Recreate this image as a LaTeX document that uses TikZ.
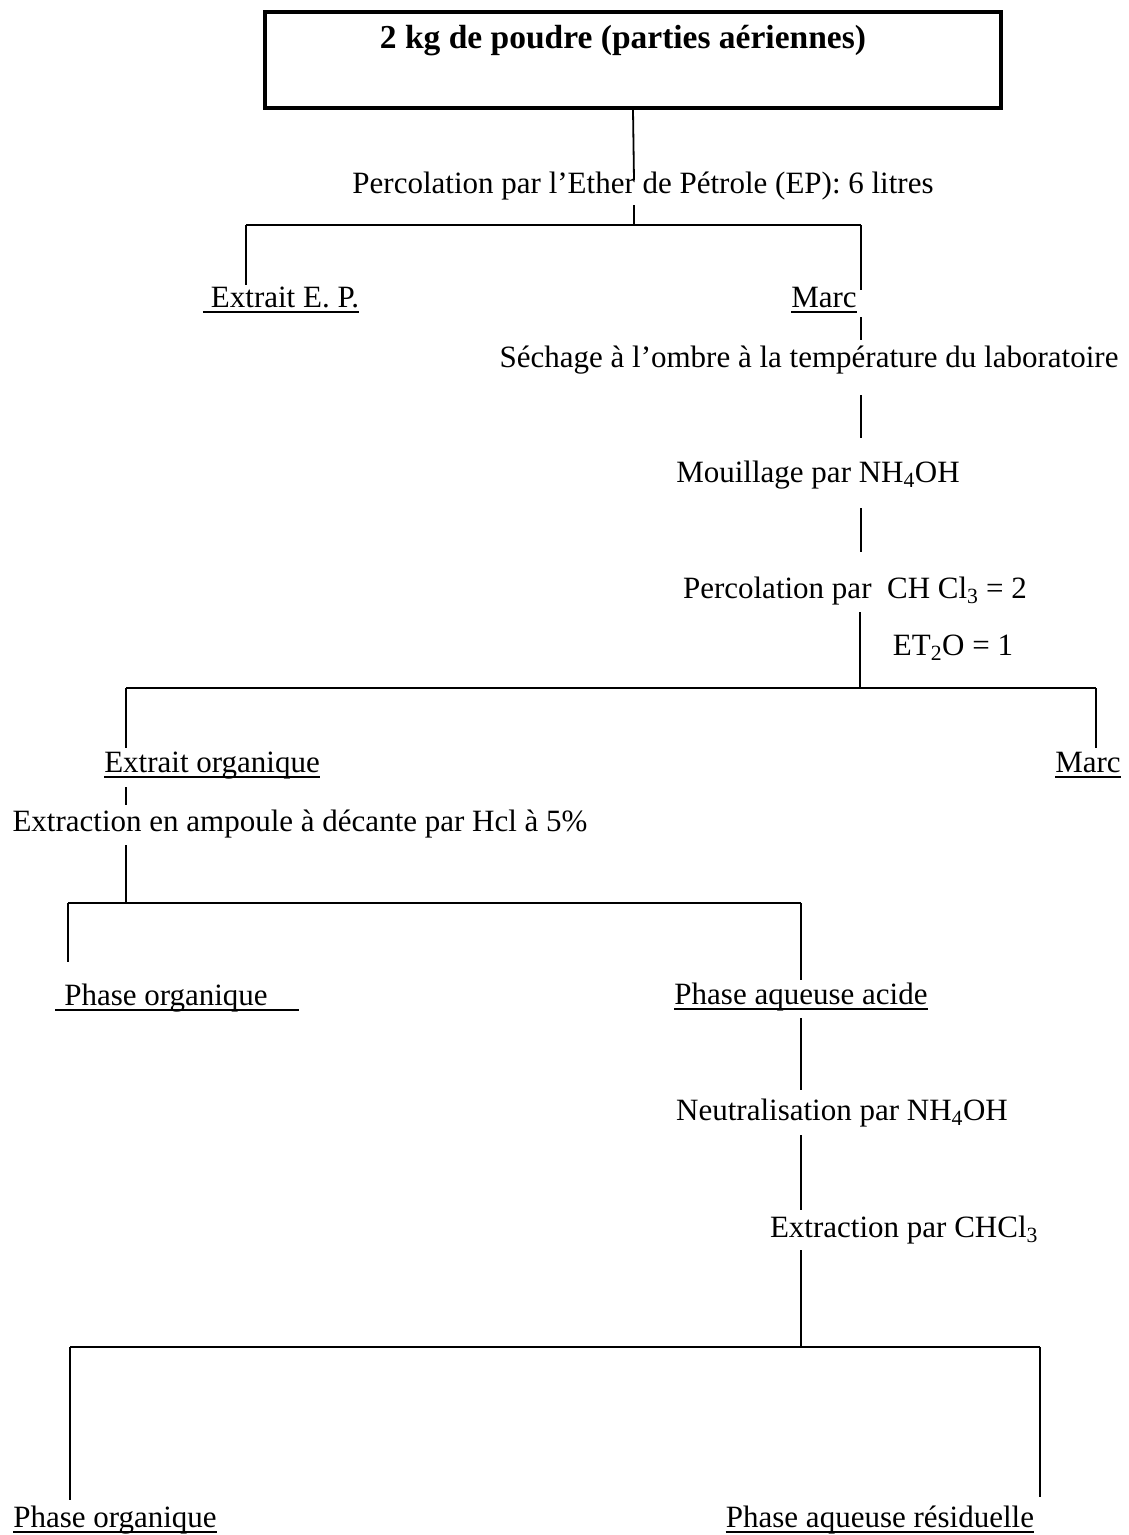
\documentclass[tikz,border=0pt]{standalone}
\usepackage{fontspec}
\setmainfont{Liberation Serif}
\begin{document}
\begin{tikzpicture}[x=1pt,y=-1pt,
  every node/.style={font=\fontsize{31}{37}\selectfont, inner sep=0pt, anchor=base},
  conn/.style={line width=1.8pt},
  hconn/.style={line width=2.4pt},
  ul/.style={line width=1.8pt}]
\useasboundingbox (0,0) rectangle (1129,1535);
% title box
\node (box) [draw, line width=3.5pt, minimum width=736pt, minimum height=96pt, anchor=center] at (633,60) {};
\node (title) [font=\fontsize{33.5}{40}\selectfont\bfseries] at (623,48) {2 kg de poudre (parties aériennes)};
% labels
\node (perc1) at (643,193) {Percolation par l’Ether de Pétrole (EP): 6 litres};
\node (extep) at (285,307) {Extrait E. P.};
\node (marc1) at (824,307) {Marc};
\node (sech) at (809,367) {Séchage à l’ombre à la température du laboratoire};
\node (mouil) at (818,482) {Mouillage par NH\textsubscript{4}OH};
\node (perc2) at (855,598) {Percolation par\ \ CH Cl\textsubscript{3} = 2};
\node (et2o) at (953,655) {ET\textsubscript{2}O = 1};
\node (extorg) at (212,772) {Extrait organique};
\node (marc2) at (1088,772) {Marc};
\node (ampoule) at (300,831) {Extraction en ampoule à décante par Hcl à 5\%};
\node (phorg1) at (166,1005) {Phase organique};
\node (phaq) at (801,1004) {Phase aqueuse acide};
\node (neutr) at (842,1120) {Neutralisation par NH\textsubscript{4}OH};
\node (extchcl) at (904,1237) {Extraction par CHCl\textsubscript{3}};
\node (phorg2) at (115,1527) {Phase organique};
\node (phres) at (880,1527) {Phase aqueuse résiduelle};
% underlines
\draw[ul] ([yshift=-5pt]extep.base west) ++(-8pt,0) -- ([yshift=-5pt]extep.base east);
\draw[ul] ([yshift=-5pt]marc1.base west) -- ([yshift=-5pt]marc1.base east);
\draw[ul] ([yshift=-5pt]extorg.base west) -- ([yshift=-5pt]extorg.base east);
\draw[ul] ([yshift=-5pt]marc2.base west) -- ([yshift=-5pt]marc2.base east);
\draw[ul] ([yshift=-5pt]phorg1.base west) ++(-9pt,0) -- ([yshift=-5pt,xshift=31pt]phorg1.base east);
\draw[ul] ([yshift=-5pt]phaq.base west) -- ([yshift=-5pt]phaq.base east);
\draw[ul] ([yshift=-5pt]phorg2.base west) -- ([yshift=-5pt]phorg2.base east);
\draw[ul] ([yshift=-5pt]phres.base west) -- ([yshift=-5pt]phres.base east);
% junction coordinates
\coordinate (a1) at (634,180);
\coordinate (a2) at (634,205);
\coordinate (j1) at (634,225);
\coordinate (j1l) at (246,225);
\coordinate (j1r) at (861,225);
\coordinate (e1) at (246,285);
\coordinate (e2) at (861,290);
\coordinate (b1) at (861,317);
\coordinate (b2) at (861,340);
\coordinate (b3) at (861,395);
\coordinate (b4) at (861,438);
\coordinate (b5) at (861,508);
\coordinate (b6) at (861,552);
\coordinate (b7) at (860,612);
\coordinate (j2) at (860,688);
\coordinate (j2l) at (126,688);
\coordinate (j2r) at (1096,688);
\coordinate (e3) at (126,748);
\coordinate (e4) at (1096,748);
\coordinate (c1) at (126,787);
\coordinate (c2) at (126,805);
\coordinate (c3) at (126,845);
\coordinate (j3) at (126,903);
\coordinate (j3l) at (68,903);
\coordinate (j3r) at (801,903);
\coordinate (e5) at (68,962);
\coordinate (e6) at (801,980);
\coordinate (d1) at (801,1018);
\coordinate (d2) at (801,1090);
\coordinate (d3) at (801,1135);
\coordinate (d4) at (801,1210);
\coordinate (d5) at (801,1250);
\coordinate (j4) at (801,1347);
\coordinate (j4l) at (70,1347);
\coordinate (j4r) at (1040,1347);
\coordinate (e7) at (70,1500);
\coordinate (e8) at (1040,1497);
% connectors
\draw[conn] (box.south) -- (a1);
\draw[conn] (a2) -- (j1);
\draw[hconn] (j1l) -- (j1r);
\draw[conn] (j1l) -- (e1);
\draw[conn] (j1r) -- (e2);
\draw[conn] (b1) -- (b2);
\draw[conn] (b3) -- (b4);
\draw[conn] (b5) -- (b6);
\draw[conn] (b7) -- (j2);
\draw[hconn] (j2l) -- (j2r);
\draw[conn] (j2l) -- (e3);
\draw[conn] (j2r) -- (e4);
\draw[conn] (c1) -- (c2);
\draw[conn] (c3) -- (j3);
\draw[hconn] (j3l) -- (j3r);
\draw[conn] (j3l) -- (e5);
\draw[conn] (j3r) -- (e6);
\draw[conn] (d1) -- (d2);
\draw[conn] (d3) -- (d4);
\draw[conn] (d5) -- (j4);
\draw[hconn] (j4l) -- (j4r);
\draw[conn] (j4l) -- (e7);
\draw[conn] (j4r) -- (e8);
\end{tikzpicture}
\end{document}
